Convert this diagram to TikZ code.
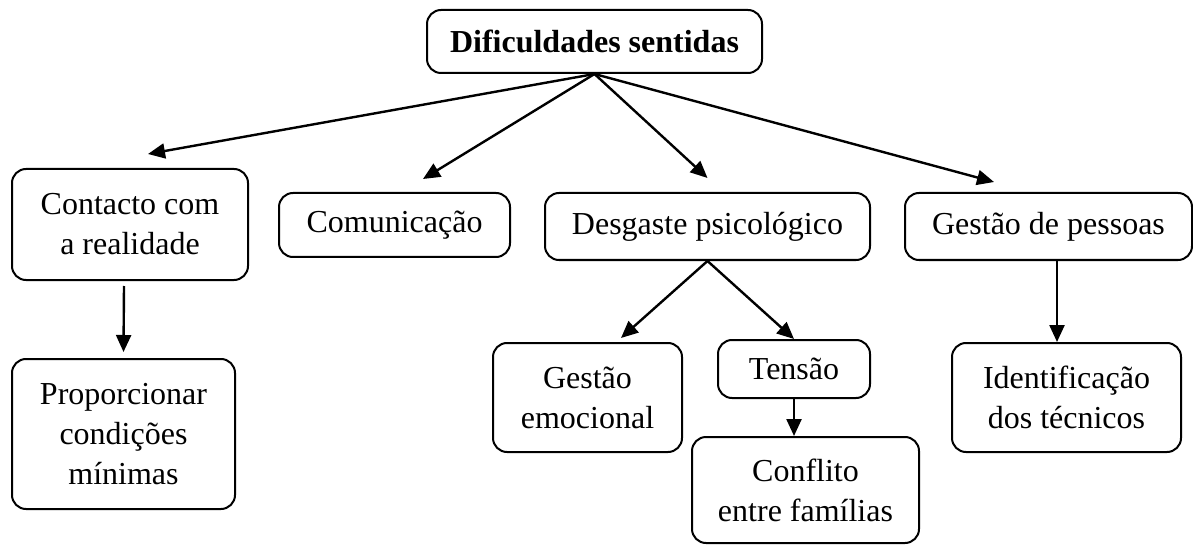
\documentclass[tikz,border=0pt]{standalone}
\usepackage{fontspec}
\setmainfont{Liberation Serif}
\usetikzlibrary{arrows.meta}
\tikzset{box/.style={draw,line width=1pt,rounded corners=7pt,align=center,inner sep=0pt}}
\begin{document}
\begin{tikzpicture}[x=0.5pt,y=-0.5pt,>={Triangle[length=8.5pt,width=7.5pt]},line width=1.2pt,font=\fontsize{16}{20}\selectfont]
    \useasboundingbox (0,0) rectangle (1193,545);

    \node[box,minimum width=167.5pt,minimum height=31.5pt] at (594.5,41.5) (top) {\textbf{Dificuldades sentidas}};

    \node[box,minimum width=118pt,minimum height=55.5pt] at (130,224.5) (contacto) {Contacto com\\a realidade};
    \node[box,minimum width=115.5pt,minimum height=32pt] at (394.5,225) (comunic) {Comunicação};
    \node[box,minimum width=162.5pt,minimum height=33.5pt] at (707.5,226.5) (desgaste) {Desgaste psicológico};
    \node[box,minimum width=143.5pt,minimum height=33.5pt] at (1048.5,226.5) (gestao) {Gestão de pessoas};

    \node[box,minimum width=111.5pt,minimum height=75pt] at (123.5,434) (propor) {Proporcionar\\condições\\mínimas};
    \node[box,minimum width=94.5pt,minimum height=54.5pt] at (587.5,397.5) (emocional) {Gestão\\emocional};
    \node[box,minimum width=76pt,minimum height=29pt] at (794,369) (tensao) {Tensão};
    \node[box,minimum width=113.5pt,minimum height=53pt] at (805.5,490) (conflito) {Conflito\\entre famílias};
    \node[box,minimum width=114.5pt,minimum height=54.5pt] at (1066.5,397.5) (ident) {Identificação\\dos técnicos};

    \path[->] (top.south) edge ([shift={(18,-14)}]contacto.north);
    \path[->] (top.south) edge ([shift={(28.5,-13)}]comunic.north);
    \path[->] (top.south) edge ([shift={(0,-14)}]desgaste.north);
    \path[->] (top.south) edge ([shift={(-54.5,-10)}]gestao.north);

    \path[->] ([shift={(-6,5)}]contacto.south) edge ([yshift=3pt]propor.north);
    \path[->] (desgaste.south) edge ([shift={(33.5,-4)}]emocional.north);
    \path[->] (desgaste.south) edge (tensao.north);
    \path[->] (tensao.south) edge (tensao.south |- conflito.north);
    \path[->] ([xshift=4.25pt]gestao.south) edge ([xshift=4.25pt]gestao.south |- ident.north);
\end{tikzpicture}
\end{document}
